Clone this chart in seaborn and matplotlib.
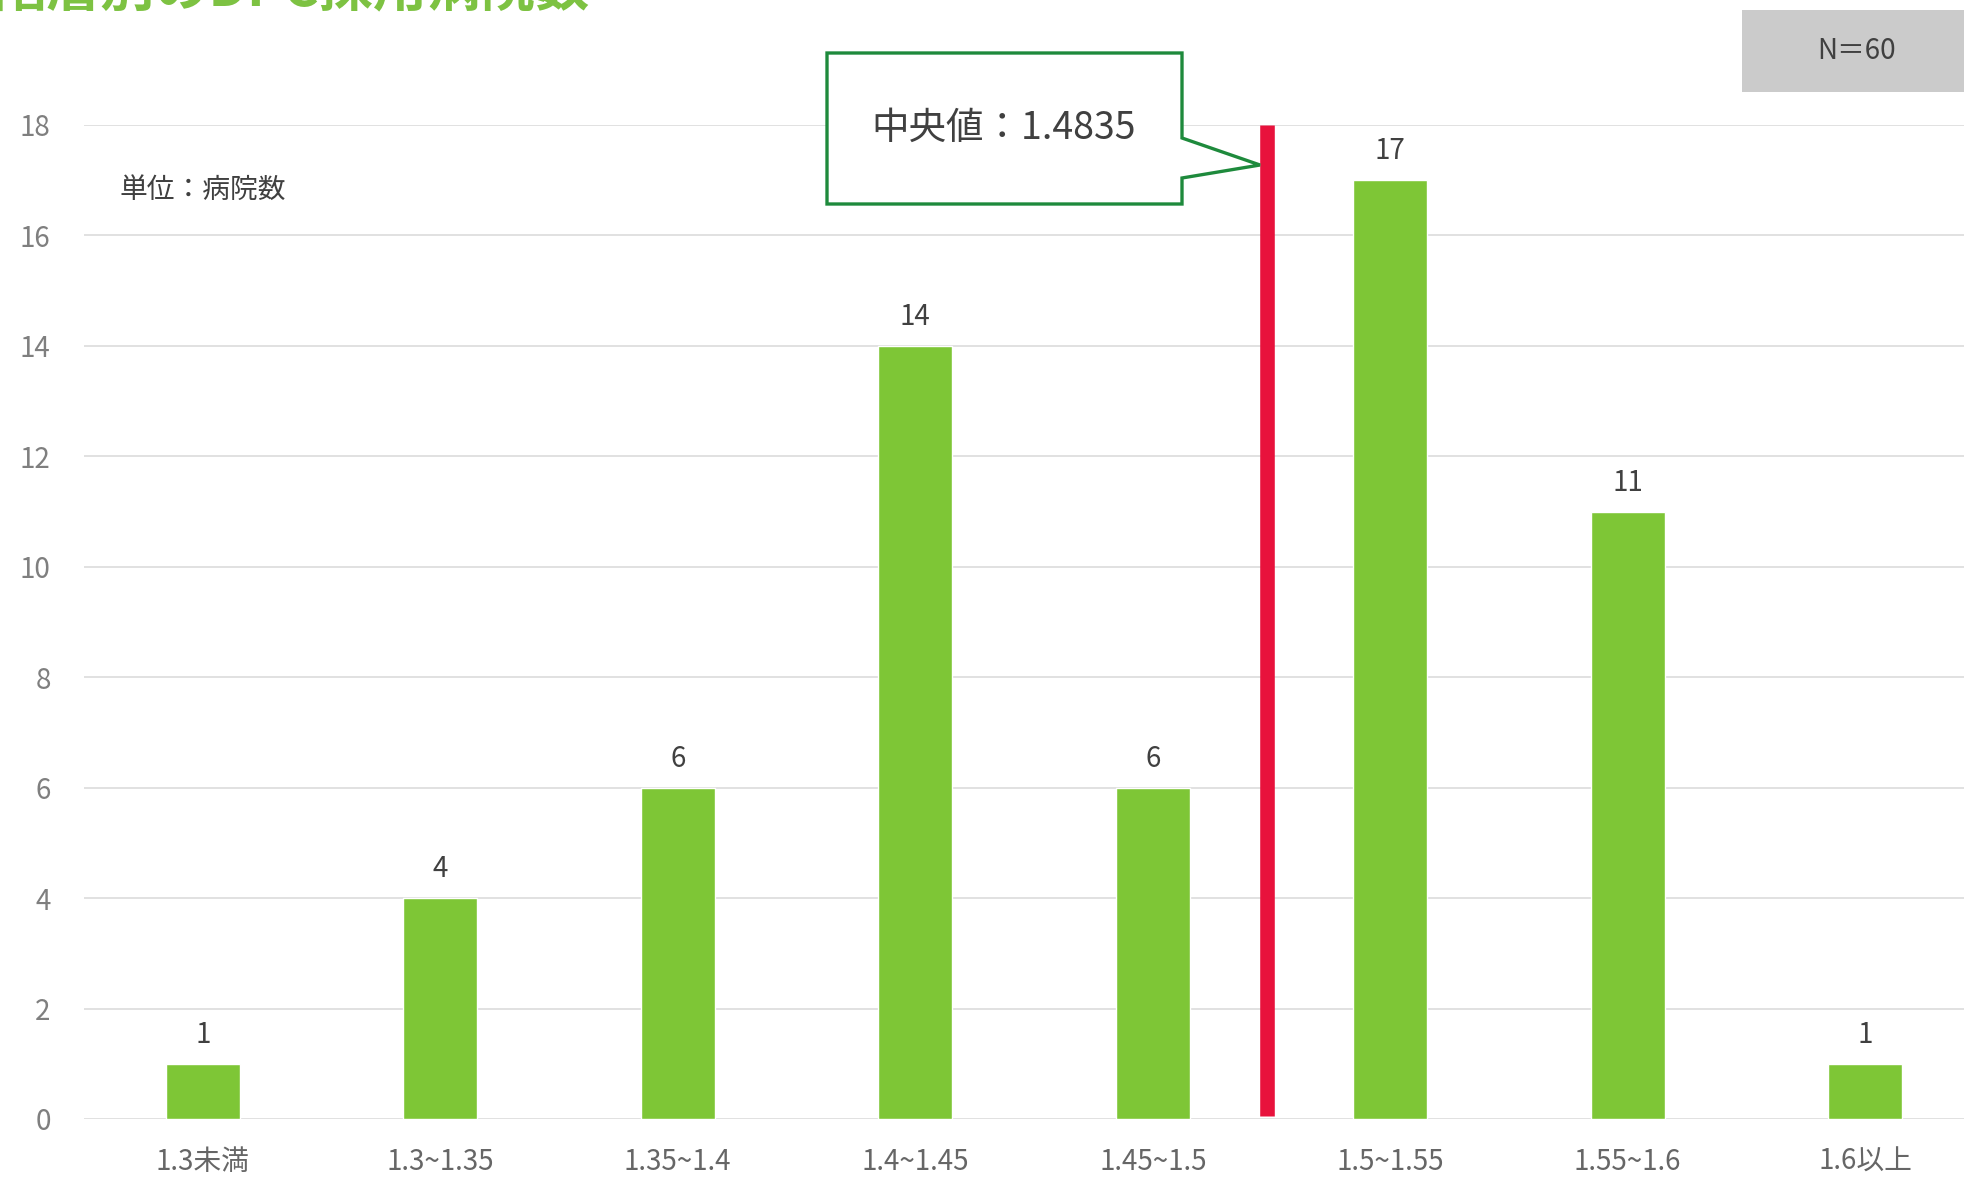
import matplotlib
matplotlib.use("Agg")
import matplotlib.pyplot as plt
import seaborn as sns
import pandas as pd
from matplotlib.patches import Polygon, Rectangle

# data
categories = ["1.3未満", "1.3~1.35", "1.35~1.4", "1.4~1.45", "1.45~1.5", "1.5~1.55", "1.55~1.6", "1.6以上"]
hospitals = [1, 4, 6, 14, 6, 17, 11, 1]
median_label = "中央値：1.4835"
median_pos = 4.48   # where the red median line sits between the bars
n_label = "N＝60"
unit_label = "単位：病院数"
title = "階層別のDPC採用病院数"
y_ticks = [0, 2, 4, 6, 8, 10, 12, 14, 16, 18]

sns.set_style("white")
plt.rcParams["font.family"] = ["Noto Sans CJK JP", "DejaVu Sans"]

df = pd.DataFrame({"cat": categories, "n": hospitals})

W, H = 1965, 1189
fig = plt.figure(figsize=(W / 100, H / 100), dpi=100)
ax = fig.add_axes([84 / W, 70 / H, (W - 84) / W, (1119 - 125) / H])

sns.barplot(data=df, x="cat", y="n", color="#7ec636", width=0.31, saturation=1, ax=ax, zorder=3)
ax.bar_label(ax.containers[0], fontsize=20, color="#404040", padding=10)

ax.set_xlim(-0.5, 7.42)
ax.set_ylim(0, 18)
ax.set_yticks(y_ticks)
ax.grid(axis="y", color="#dcdcdc", lw=1.2, zorder=0)
sns.despine(ax=ax, left=True, bottom=True)
ax.set_xlabel("")
ax.set_ylabel("")
ax.tick_params(axis="y", labelsize=20, labelcolor="#7f7f7f", length=0, pad=24)
ax.tick_params(axis="x", labelsize=20, labelcolor="#666666", length=0, pad=20)

# median line
ax.vlines(median_pos, 0.05, 18, color="#e8123c", lw=10.5, zorder=4)

# helper: figure pixel coords (y from top)
def px(x, y):
    return (x / W, 1 - y / H)

# callout
pts = [px(827, 53), px(1182, 53), px(1182, 138), px(1260, 165),
       px(1182, 178), px(1182, 204), px(827, 204)]
fig.patches.append(Polygon(pts, closed=True, facecolor="white", edgecolor="#1e8a3c",
                           lw=2.4, transform=fig.transFigure, zorder=5))
fig.text(*px(1004, 128), median_label, fontsize=27, color="#404040",
         ha="center", va="center", zorder=6)

# N box
x0, y0 = px(1742, 92)
fig.patches.append(Rectangle((x0, y0), 1 - x0, 82 / H, facecolor="#cbcbcb",
                             edgecolor="none", transform=fig.transFigure, zorder=5))
fig.text(*px(1857, 51), n_label, fontsize=20, color="#404040",
         ha="center", va="center", zorder=6)

# unit label
fig.text(*px(120, 190), unit_label, fontsize=20, color="#404040",
         ha="left", va="center")

# title (cut off at the top in the original)
fig.text(*px(-8, -10), title, fontsize=39, color="#7dc242", fontweight="bold",
         ha="left", va="center")

fig.savefig("out.png", dpi=100)
